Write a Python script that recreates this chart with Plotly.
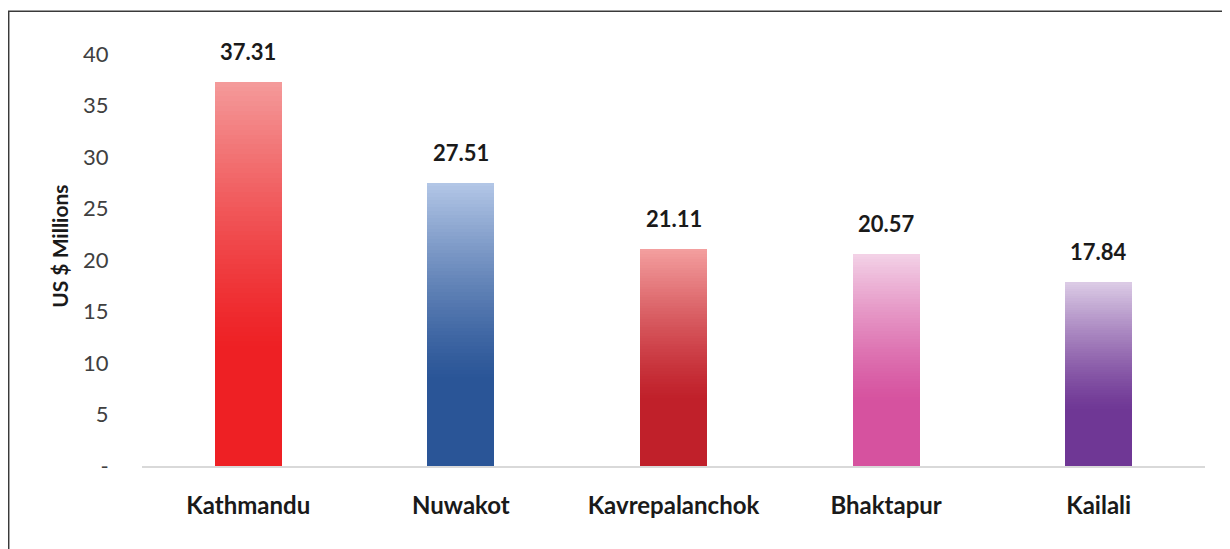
import plotly.graph_objects as go

# ---- data ----
districts = ["Kathmandu", "Nuwakot", "Kavrepalanchok", "Bhaktapur", "Kailali"]
values = [37.31, 27.51, 21.11, 20.57, 17.84]
value_labels = ["37.31", "27.51", "21.11", "20.57", "17.84"]
y_tickvals = [0, 5, 10, 15, 20, 25, 30, 35, 40]
y_ticktext = ["-", "5", "10", "15", "20", "25", "30", "35", "40"]
y_title = "US $ Millions"

# gradient colours per bar: (bottom solid colour, top light colour)
bottom_colors = ["#EE2024", "#2A5597", "#C0202A", "#D6529F", "#6F3795"]
top_colors = ["#F49B9B", "#B4C7E7", "#F4A0A0", "#F3D2E7", "#DCCCE6"]

N_SEG = 80          # number of slices used to mimic the vertical gradient
SOLID_FRAC = 0.30   # lower part of the bar in solid colour


def hex_to_rgb(h):
    h = h.lstrip("#")
    return tuple(int(h[i:i + 2], 16) for i in (0, 2, 4))


def mix(c0, c1, t):
    a, b = hex_to_rgb(c0), hex_to_rgb(c1)
    return "rgb(%d,%d,%d)" % tuple(round(a[k] + (b[k] - a[k]) * t) for k in range(3))


fig = go.Figure()
for i in range(N_SEG):
    frac = (i + 0.5) / N_SEG
    u = 0.0 if frac < SOLID_FRAC else (frac - SOLID_FRAC) / (1 - SOLID_FRAC)
    t = u ** 1.25
    cols = [mix(b, tp, t) for b, tp in zip(bottom_colors, top_colors)]
    fig.add_trace(go.Bar(
        x=districts,
        y=[v / N_SEG for v in values],
        marker=dict(color=cols, line=dict(width=0)),
        hoverinfo="skip",
        showlegend=False,
    ))

for d, v, lab in zip(districts, values, value_labels):
    fig.add_annotation(
        x=d, y=v, text=lab, showarrow=False, yanchor="bottom", yshift=15,
        font=dict(family="Lato", size=22, color="#1a1a1a", weight="bold"),
    )

# y-axis title (placed like the original, slightly above centre)
fig.add_annotation(
    xref="paper", yref="paper", x=-0.0771, y=0.532, text=y_title,
    textangle=-90, showarrow=False, xanchor="center", yanchor="middle",
    font=dict(family="Lato", size=21, color="#1a1a1a", weight="bold"),
)

# outer chart border (left and top edges visible; rest cropped)
fig.add_shape(type="rect", xref="paper", yref="paper",
              x0=-0.1254, x1=1.06, y0=-0.26, y1=1.1035,
              line=dict(color="#3a3a3a", width=1.5), fillcolor="rgba(0,0,0,0)")

fig.update_layout(
    width=1230, height=549,
    margin=dict(l=134, r=33, t=46, b=91, autoexpand=False),
    paper_bgcolor="white", plot_bgcolor="white",
    barmode="stack", bargap=0.685,
    font=dict(family="Lato", color="#404040"),
    showlegend=False,
)
fig.update_xaxes(
    showline=True, linecolor="#D9D9D9", linewidth=1.5,
    showgrid=False, ticks="outside", ticklen=17, tickcolor="rgba(0,0,0,0)",
    tickfont=dict(family="Lato", size=24, color="#1a1a1a", weight="bold"),
    automargin=False,
)
fig.update_yaxes(
    range=[0, 40], tickvals=y_tickvals, ticktext=y_ticktext,
    showgrid=False, zeroline=False, showline=False,
    ticks="outside", ticklen=28, tickcolor="rgba(0,0,0,0)",
    tickfont=dict(family="Lato", size=22, color="#404040"),
    automargin=False,
)

fig.write_html("out.html")
